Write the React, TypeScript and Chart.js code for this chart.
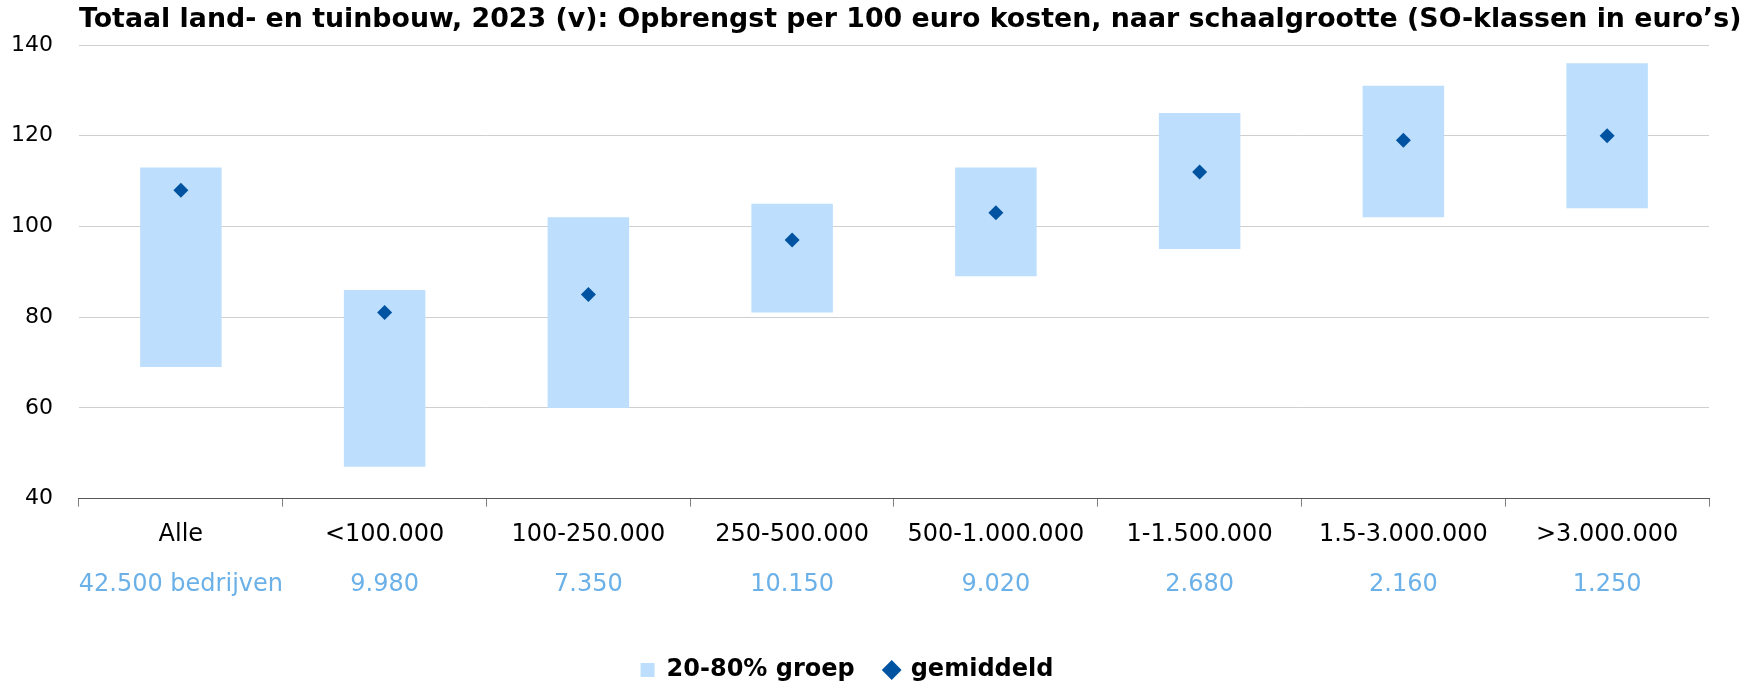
import { useEffect, useRef } from "react";
import { Chart, registerables } from "chart.js";

Chart.register(...registerables);

const TITLE =
  "Totaal land- en tuinbouw, 2023 (v): Opbrengst per 100 euro kosten, naar schaalgrootte (SO-klassen in euro’s)";
const categories = [
  "Alle",
  "<100.000",
  "100-250.000",
  "250-500.000",
  "500-1.000.000",
  "1-1.500.000",
  "1.5-3.000.000",
  ">3.000.000",
];
const counts = ["42.500 bedrijven", "9.980", "7.350", "10.150", "9.020", "2.680", "2.160", "1.250"];
const low20 = [69, 47, 60, 81, 89, 95, 102, 104];
const high80 = [113, 86, 102, 105, 113, 125, 131, 136];
const mean = [108, 81, 85, 97, 103, 112, 119, 120];
const yTicks = [40, 60, 80, 100, 120, 140];
const seriesNames = ["20-80% groep", "gemiddeld"];

const FONT = '"DejaVu Sans", Verdana, sans-serif';

const titlePlugin = {
  id: "leftTitle",
  afterDraw(chart: any) {
    const { ctx, chartArea } = chart;
    ctx.save();
    ctx.font = `bold 26.8px ${FONT}`;
    ctx.fillStyle = "#000000";
    ctx.textAlign = "left";
    ctx.textBaseline = "alphabetic";
    ctx.fillText(TITLE, chartArea.left, 27);
    ctx.restore();
  },
};

export default function App() {
  const ref = useRef<HTMLCanvasElement | null>(null);

  useEffect(() => {
    document.body.style.margin = "0";
    const canvas = ref.current;
    if (!canvas) return;
    const chart = new Chart(canvas, {
      type: "bar",
      data: {
        labels: categories,
        datasets: [
          {
            type: "bar",
            label: seriesNames[0],
            data: low20.map((l, i) => [l, high80[i]]) as any,
            backgroundColor: "#BDDFFD",
            borderWidth: 0,
            barPercentage: 0.4,
            categoryPercentage: 1,
            pointStyle: "rect",
            order: 2,
            xAxisID: "x",
          } as any,
          {
            type: "line",
            label: seriesNames[1],
            data: mean,
            showLine: false,
            pointStyle: "rectRot",
            pointRadius: 7.5,
            pointHoverRadius: 7.5,
            backgroundColor: "#0053A0",
            borderColor: "#0053A0",
            borderWidth: 0,
            order: 1,
            xAxisID: "x",
          } as any,
        ],
      },
      options: {
        animation: false,
        responsive: true,
        maintainAspectRatio: false,
        layout: { padding: { left: -15, right: 49, top: 45, bottom: -7 } },
        font: { family: FONT },
        plugins: {
          title: { display: false },
          tooltip: { enabled: false },
          legend: {
            display: true,
            position: "bottom",
            title: {
              display: true,
              text: "",
              padding: { top: 19.6, bottom: 0 },
              font: { family: FONT, size: 1, lineHeight: 1 },
            },
            labels: {
              usePointStyle: true,
              boxHeight: 14,
              boxWidth: 14,
              padding: 30,
              color: "#000000",
              font: { family: FONT, size: 24, weight: "bold", lineHeight: 1 },
              sort: (a: any, b: any) => a.datasetIndex - b.datasetIndex,
            },
          },
        },
        scales: {
          x: {
            type: "category",
            position: "bottom",
            offset: true,
            weight: 0,
            grid: {
              display: true,
              drawOnChartArea: false,
              drawTicks: true,
              tickLength: 8,
              color: "#7f7f7f",
              offset: true,
            },
            border: { display: true, color: "#595959", width: 1 },
            ticks: {
              color: "#000000",
              padding: 13.4,
              maxRotation: 0,
              autoSkip: false,
              font: { family: FONT, size: 24 },
            },
          },
          x2: {
            type: "category",
            position: "bottom",
            labels: counts,
            offset: true,
            weight: 1,
            grid: { display: false, drawTicks: false },
            border: { display: false },
            ticks: {
              color: "#6BB1E8",
              padding: 8.2,
              maxRotation: 0,
              autoSkip: false,
              font: { family: FONT, size: 24 },
            },
          },
          y: {
            type: "linear",
            min: yTicks[0],
            max: yTicks[yTicks.length - 1],
            afterBuildTicks: (scale: any) => {
              scale.ticks = yTicks.map((v) => ({ value: v }));
            },
            grid: { color: "#CFCFCF", lineWidth: 1, drawTicks: false },
            border: { display: false },
            ticks: {
              color: "#000000",
              padding: 26,
              font: { family: FONT, size: 22 },
            },
          },
        },
      },
      plugins: [titlePlugin],
    });
    return () => chart.destroy();
  }, []);

  return (
    <div style={{ position: "relative", width: 1758, height: 685 }}>
      <canvas ref={ref} />
    </div>
  );
}
